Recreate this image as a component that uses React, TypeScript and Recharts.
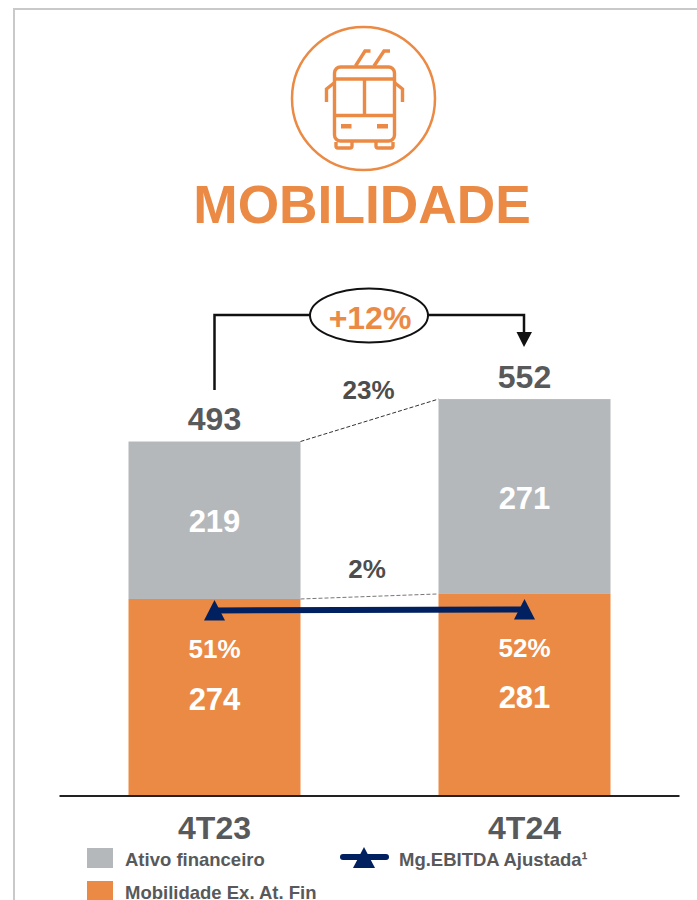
import React from "react";
import { ComposedChart, Bar, Line, XAxis, YAxis, LabelList, Legend } from "recharts";

const categories = ["4T23", "4T24"];
const ativoFinanceiro = [219, 271];
const mobilidade = [274, 281];
const totais = [493, 552];
const margem = [51, 52];
const titulo = "MOBILIDADE";
const crescimento = "+12%";
const variacaoAtivo = "23%";
const variacaoMobilidade = "2%";
const nomes = { ativo: "Ativo financeiro", mob: "Mobilidade Ex. At. Fin", mg: "Mg.EBITDA Ajustada¹" };

const data = categories.map((c, i) => ({
  cat: c,
  ativo: ativoFinanceiro[i],
  mob: mobilidade[i],
  total: totais[i],
  mg: margem[i],
}));

const FONT = "'Liberation Sans', Arial, sans-serif";
const ORANGE = "#EB8A44";
const GREY = "#B5B8BB";
const NAVY = "#002060";
const TEXT = "#58595B";
const STEP = 310;

function stackedBar(key: "ativo" | "mob", dash: string) {
  return (props: any) => {
    const { x, y, width, height, index } = props;
    const k = height / props[key];
    const top = (i: number) => (key === "ativo" ? totais[i] : mobilidade[i]);
    const next = index + 1 < categories.length ? y + (top(index) - top(index + 1)) * k : null;
    const fill = key === "ativo" ? GREY : ORANGE;
    return (
      <g>
        <rect x={x} y={y} width={width} height={height} fill={fill} />
        {next !== null && (
          <line x1={x + width} y1={y} x2={x + STEP} y2={next} stroke={dash} strokeWidth={1} strokeDasharray="4 2" />
        )}
      </g>
    );
  };
}

function centeredLabel(size: number, fill: string, shift: (p: any) => number) {
  return (p: any) => (
    <text
      x={p.x + (p.width || 0) / 2}
      y={shift(p) + size * 0.36}
      textAnchor="middle"
      fontFamily={FONT}
      fontWeight={700}
      fontSize={size}
      fill={fill}
    >
      {p.pct ? `${p.value}%` : p.value}
    </text>
  );
}

const Triangle = (p: any) => (
  <path d={`M${p.cx} ${p.cy - 10.5}L${p.cx + 10.5} ${p.cy + 10}L${p.cx - 10.5} ${p.cy + 10}Z`} fill={NAVY} />
);

const XTick = (p: any) => (
  <text x={p.x} y={827 + 32 * 0.36} textAnchor="middle" fontFamily={FONT} fontWeight={700} fontSize={32} fill={TEXT}>
    {p.payload.value}
  </text>
);

const legendText: React.CSSProperties = {
  position: "absolute",
  fontFamily: FONT,
  fontWeight: 700,
  fontSize: 18.5,
  lineHeight: "14px",
  color: TEXT,
  whiteSpace: "nowrap",
};

const LegendBox = () => (
  <div style={{ position: "relative", width: 697, height: 0 }}>
    <div style={{ position: "absolute", left: 87, top: 848, width: 26, height: 20, background: GREY }} />
    <div style={{ ...legendText, left: 125, top: 853 }}>{nomes.ativo}</div>
    <div style={{ position: "absolute", left: 87, top: 881, width: 26, height: 19, background: ORANGE }} />
    <div style={{ ...legendText, left: 125, top: 885.5 }}>{nomes.mob}</div>
    <svg style={{ position: "absolute", left: 340, top: 845 }} width={50} height={26}>
      <line x1={3} y1={12} x2={46} y2={12} stroke={NAVY} strokeWidth={6} strokeLinecap="round" />
      <path d="M24 2L35 23L13 23Z" fill={NAVY} />
    </svg>
    <div style={{ ...legendText, left: 399, top: 853 }}>{nomes.mg}</div>
  </div>
);

const Overlay = () => (
  <svg width={697} height={900} style={{ position: "absolute", left: 0, top: 0, pointerEvents: "none" }}>
    {/* moldura */}
    <path d="M14 900L14 9L697 9" fill="none" stroke="#C9C9C9" strokeWidth={2} />
    {/* ícone */}
    <ellipse cx={363.5} cy={98.5} rx={71.5} ry={71.5} fill="none" stroke={ORANGE} strokeWidth={2.5} />
    <g fill="none" stroke={ORANGE} strokeWidth={3.4}>
      <rect x={334.5} y={67} width={60} height={74} rx={6} />
      <path d="M334 79H395M334 115.5H395M364.5 79V115.5" />
      <path d="M355.5 66L365 51H370.5M374 66L384 51H390" />
      <path d="M334 83L326.5 89V102M395 83L402.5 89V102" />
      <path d="M336 142V146Q336 148 338 148H350Q352 148 352 146V142M376 142V146Q376 148 378 148H391Q393 148 393 146V142" />
    </g>
    <rect x={341} y={124} width={10.5} height={4.5} fill={ORANGE} />
    <rect x={377} y={124} width={11} height={4.5} fill={ORANGE} />
    <text x={362} y={223} textAnchor="middle" fontFamily={FONT} fontWeight={700} fontSize={53.3} fill={ORANGE}>
      {titulo}
    </text>
    {/* crescimento */}
    <path d="M214.5 390V315H310M428 315H524V333" fill="none" stroke="#111" strokeWidth={2.5} />
    <path d="M516.5 332H532L524 347Z" fill="#111" />
    <ellipse cx={369} cy={315.5} rx={59} ry={27} fill="#fff" stroke="#111" strokeWidth={2} />
    <text x={370} y={329} textAnchor="middle" fontFamily={FONT} fontWeight={700} fontSize={32} fill={ORANGE}>
      {crescimento}
    </text>
    <text x={368.5} y={399} textAnchor="middle" fontFamily={FONT} fontWeight={700} fontSize={26} fill="#4D4D4D">
      {variacaoAtivo}
    </text>
    <text x={367} y={578} textAnchor="middle" fontFamily={FONT} fontWeight={700} fontSize={26} fill="#4D4D4D">
      {variacaoMobilidade}
    </text>
  </svg>
);

export default function App() {
  return (
    <div style={{ position: "absolute", left: 0, top: 0, width: 697, height: 900, overflow: "hidden", background: "#fff" }}>
      <ComposedChart
        width={697}
        height={900}
        data={data}
        barCategoryGap={0}
        margin={{ top: 0, right: 17.5, bottom: 0, left: 59.5 }}
      >
        <XAxis
          dataKey="cat"
          height={104}
          axisLine={{ stroke: "#222", strokeWidth: 2 }}
          tickLine={false}
          tick={<XTick />}
          interval={0}
        />
        <YAxis yAxisId="v" hide domain={[0, 1107]} />
        <YAxis yAxisId="m" hide domain={[-134.5, 661.5]} />
        <Legend content={<LegendBox />} wrapperStyle={{ position: "absolute", left: 0, top: 0, width: 697, height: 0 }} />
        <Bar
          yAxisId="v"
          dataKey="mob"
          stackId="s"
          name={nomes.mob}
          fill={ORANGE}
          barSize={172}
          isAnimationActive={false}
          shape={stackedBar("mob", "#777")}
        >
          <LabelList dataKey="mob" content={centeredLabel(31, "#fff", (p) => p.y + p.height / 2 + 1.5) as any} />
        </Bar>
        <Bar
          yAxisId="v"
          dataKey="ativo"
          stackId="s"
          name={nomes.ativo}
          fill={GREY}
          barSize={172}
          isAnimationActive={false}
          shape={stackedBar("ativo", "#333")}
        >
          <LabelList dataKey="ativo" content={centeredLabel(31, "#fff", (p) => p.y + p.height / 2 + 1) as any} />
          <LabelList dataKey="total" content={centeredLabel(32, TEXT, (p) => p.y - 23) as any} />
        </Bar>
        <Line
          yAxisId="m"
          dataKey="mg"
          name={nomes.mg}
          stroke={NAVY}
          strokeWidth={6}
          dot={<Triangle />}
          activeDot={false}
          isAnimationActive={false}
        >
          <LabelList
            dataKey="mg"
            content={((p: any) => centeredLabel(26, "#fff", (q) => q.y + 38)({ ...p, pct: true, width: 0 })) as any}
          />
        </Line>
      </ComposedChart>
      <Overlay />
    </div>
  );
}
